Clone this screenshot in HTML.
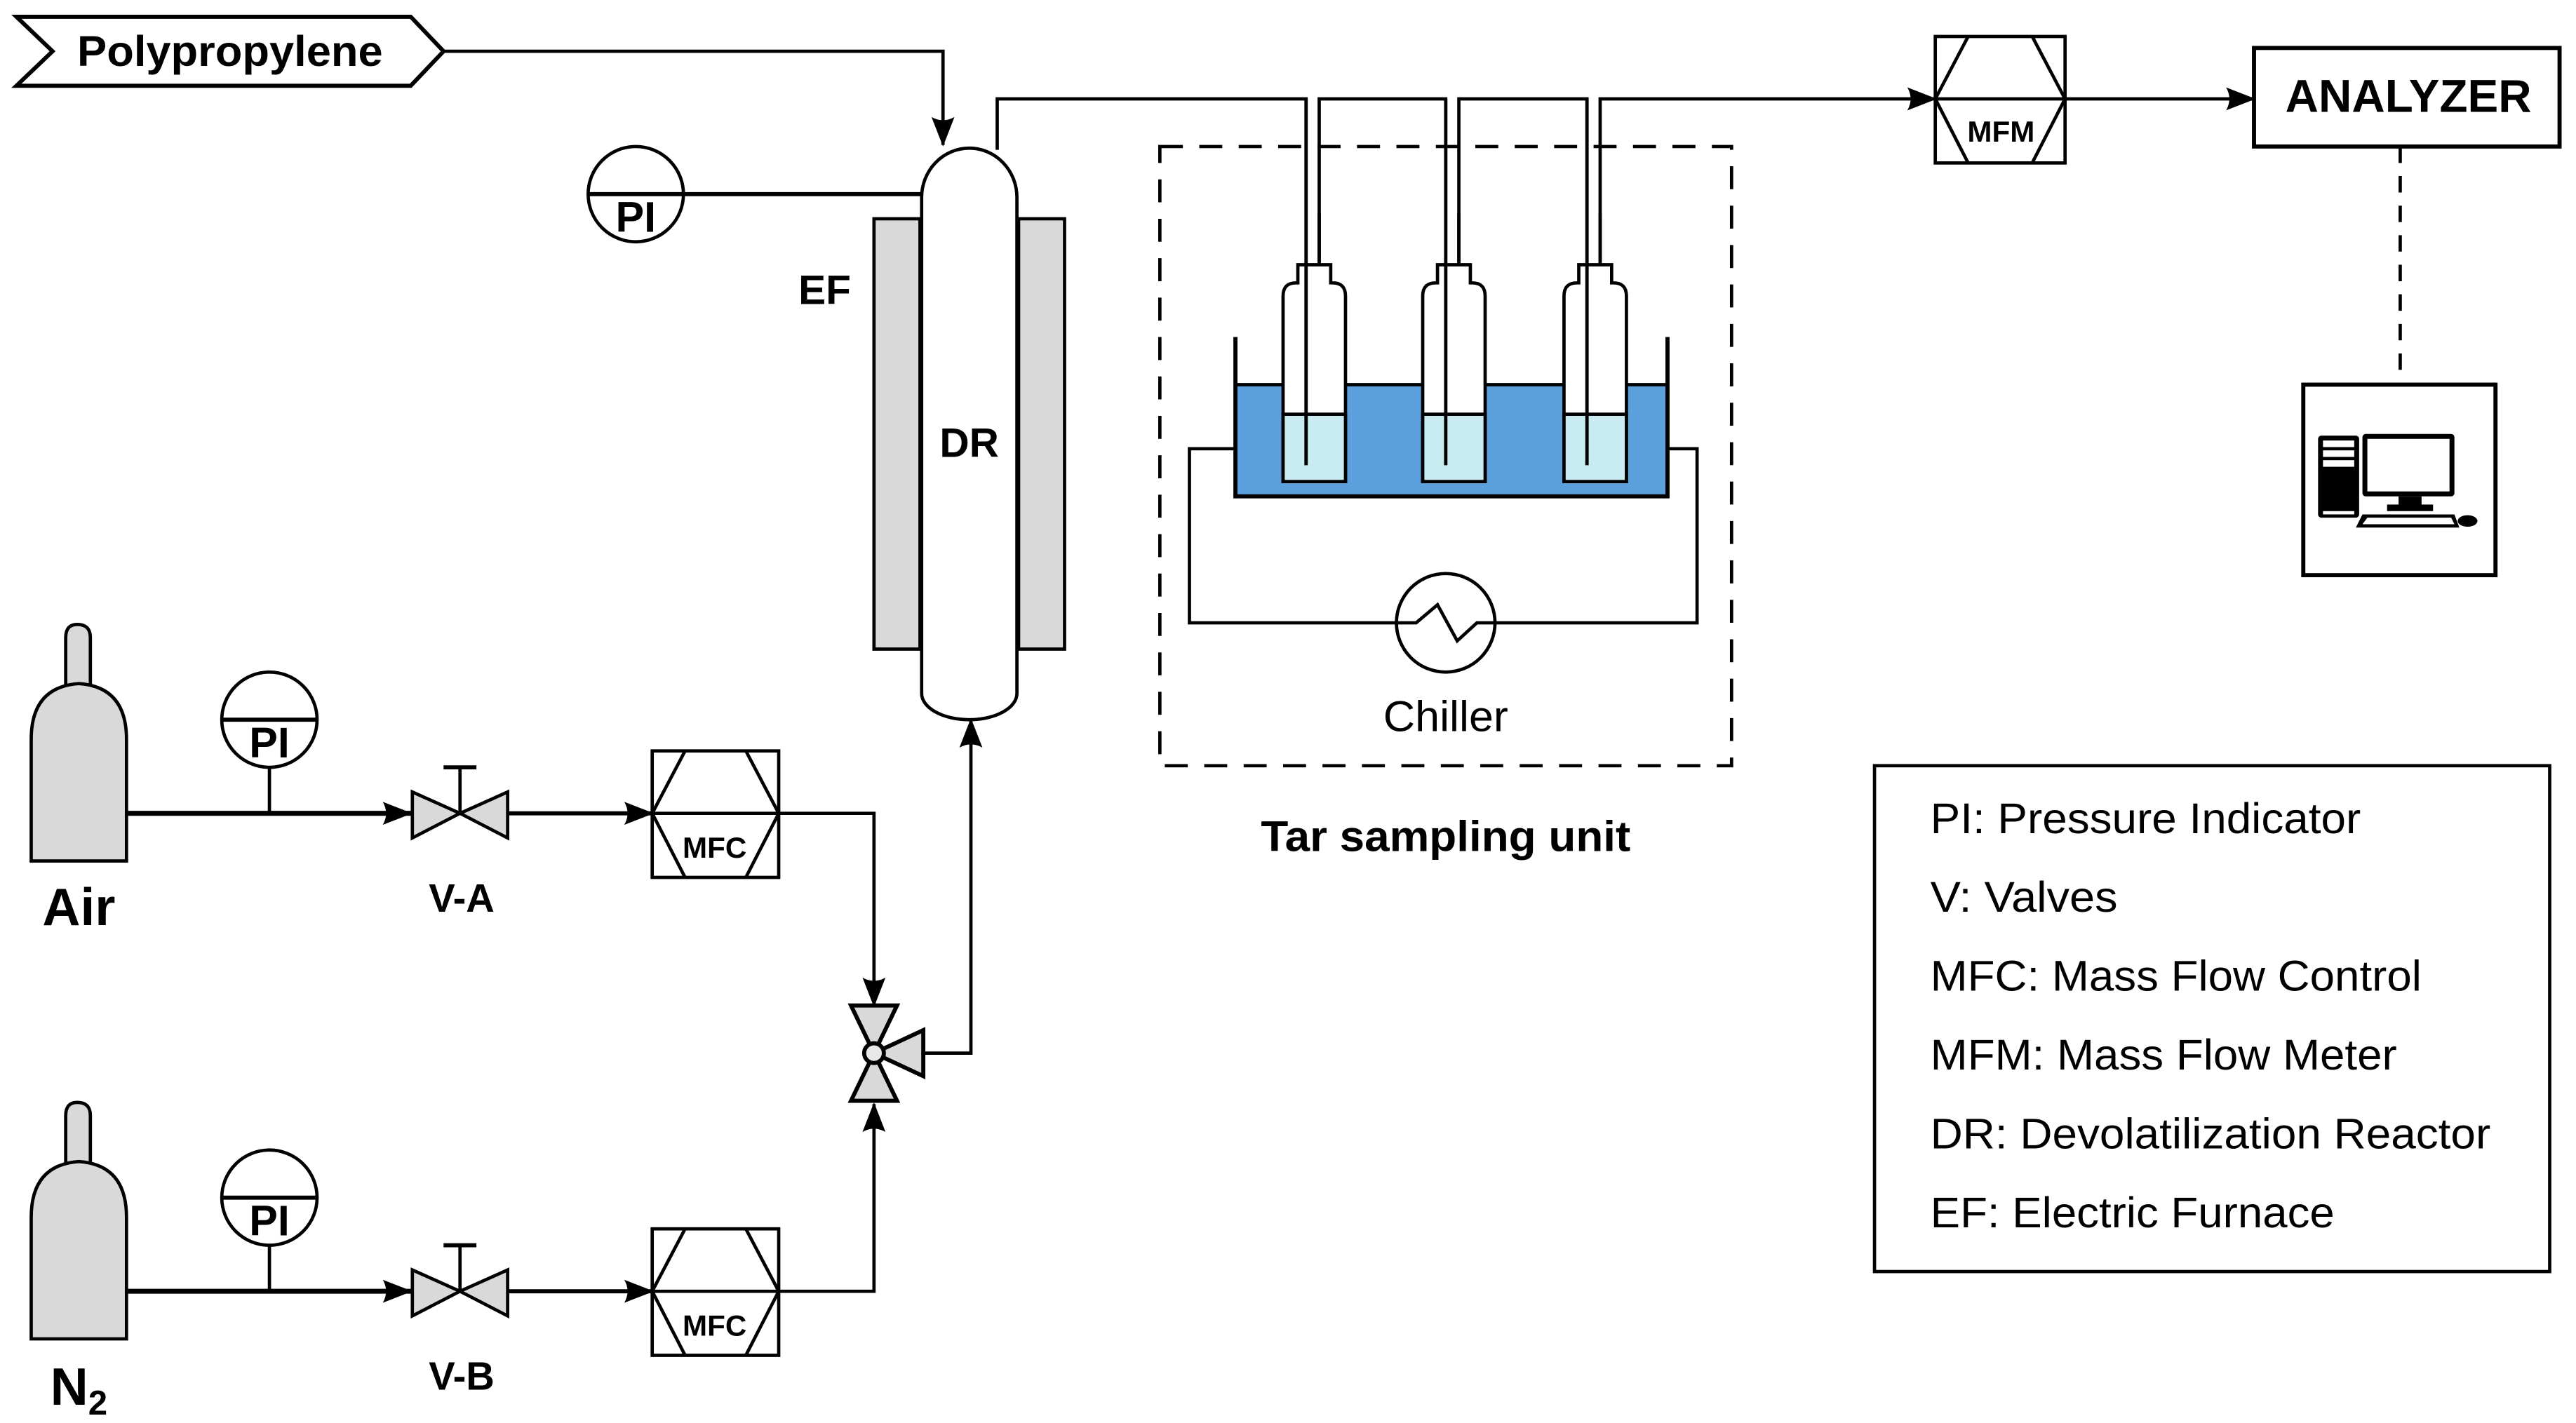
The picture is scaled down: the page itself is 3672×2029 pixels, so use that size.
<!DOCTYPE html>
<html><head><meta charset="utf-8"><style>html,body{margin:0;padding:0;background:#fff}svg{display:block}</style></head>
<body>
<svg width="3672" height="2029" viewBox="0 0 1568 866" xmlns="http://www.w3.org/2000/svg" font-family="Liberation Sans, Arial, sans-serif">
<defs>
<marker id="ah2" markerWidth="18" markerHeight="14" refX="17" refY="7" orient="auto" markerUnits="userSpaceOnUse" viewBox="0 0 18 14">
<path d="M0,0 L18,7 L0,14 Q4,7 0,0 Z" fill="#000"/>
</marker>
</defs>
<g stroke="#000" fill="none" stroke-width="2">
<path d="M10,10 L250,10 L270,31 L250,52 L10,52 L32,31 Z" fill="#fff" stroke-width="2.5"/>
<path d="M270,31 L574,31 L574,88" marker-end="url(#ah2)"/>
<rect x="532" y="133" width="28" height="262" fill="#d9d9d9"/>
<rect x="620" y="133" width="28" height="262" fill="#d9d9d9"/>
<path d="M561,120 A29,30 0 0 1 619,120 L619,422 A29,16 0 0 1 561,422 Z" fill="#fff"/>
<ellipse cx="387" cy="118" rx="29" ry="29" fill="#fff"/>
<line x1="358" y1="118" x2="561" y2="118" stroke-width="2.5"/>
<path d="M607,91 L607,60 L795,60 L795,283"/>
<path d="M803,160 L803,60 L880,60 L880,283"/>
<path d="M888,160 L888,60 L966,60 L966,283"/>
<path d="M974,160 L974,60 L1178,60" marker-end="url(#ah2)"/>
<rect x="706" y="89" width="348" height="377" stroke-dasharray="14,10"/>
<path d="M752,273 L724,273 L724,379 L1033,379 L1033,273 L1015,273"/>
<circle cx="880" cy="379" r="30" fill="#fff"/>
<path d="M850,379 L862,379 L875,368 L887,390 L899,379 L910,379"/>
<rect x="752" y="234" width="263" height="68" fill="#5b9fdc" stroke="none"/>
<path d="M752,205 L752,302 L1015,302 L1015,205" stroke-width="2.5"/>
<line x1="752" y1="234" x2="1015" y2="234"/>
</g>
<g stroke="#000" stroke-width="2">
<g id="imp">
<path d="M781,293 L781,180 Q781,172 789,172 L790,172 L790,161 L810,161 L810,172 L811,172 Q819,172 819,180 L819,293 Z" fill="#fff"/>
<rect x="781" y="252" width="38" height="41" fill="#c9ecf2"/>
<line x1="795" y1="161" x2="795" y2="283"/>
<line x1="803" y1="161" x2="803" y2="130"/>
</g>
<use href="#imp" x="85"/>
<use href="#imp" x="171"/>
</g>
<g stroke="#000" fill="none" stroke-width="2">
<path d="M795,60 L795,283 M880,60 L880,283 M966,60 L966,283"/>
<rect x="1178" y="22" width="79" height="77" fill="#fff"/>
<path d="M1198,22 L1178,60 L1198,99 M1237,22 L1257,60 L1237,99 M1178,60 L1257,60"/>
<path d="M1257,60 L1372,60" marker-end="url(#ah2)"/>
<rect x="1372" y="29" width="186" height="60" stroke-width="2.5"/>
<line x1="1461" y1="89" x2="1461" y2="234" stroke-dasharray="10,8"/>
<rect x="1402" y="234" width="117" height="116" stroke-width="2.5"/>
<rect x="1141" y="466" width="411" height="308" stroke-width="2"/>
</g>
<g>
<rect x="1411" y="265" width="25" height="50" rx="2" fill="#000"/>
<rect x="1414" y="268" width="19" height="4" fill="#fff"/>
<rect x="1414" y="274" width="19" height="4" fill="#fff"/>
<rect x="1414" y="280" width="19" height="4" fill="#fff"/>
<rect x="1414" y="311" width="19" height="2" fill="#fff"/>
<rect x="1438" y="264" width="56" height="38" rx="2" fill="#000"/>
<rect x="1441" y="267" width="50" height="32" fill="#fff"/>
<rect x="1460" y="302" width="14" height="6" fill="#000"/>
<rect x="1453" y="307" width="28" height="4" fill="#000"/>
<path d="M1438,313 L1494,313 L1497,321 L1434,321 Z" fill="#000"/>
<path d="M1441,315 L1492,315 L1494,319 L1438,319 Z" fill="#fff"/>
<ellipse cx="1502" cy="317" rx="6" ry="3.5" fill="#000"/>
</g>
<g stroke="#000" fill="none" stroke-width="2">
<path d="M40,418 L40,388 Q40,380 47,380 Q55,380 55,388 L55,418" fill="#d9d9d9"/>
<path d="M19,524 L19,450 Q19,418 48,416 Q77,418 77,450 L77,524 Z" fill="#d9d9d9"/>
<path d="M77,495 L250,495" stroke-width="3" marker-end="url(#ah2)"/>
<ellipse cx="164" cy="438" rx="29" ry="29" fill="#fff"/>
<line x1="135" y1="438" x2="193" y2="438" stroke-width="2.5"/>
<line x1="164" y1="467" x2="164" y2="495"/>
<path d="M251,482 L251,510 L280,495 Z M309,482 L309,510 L280,495 Z" fill="#d9d9d9"/>
<line x1="280" y1="495" x2="280" y2="467"/><line x1="270" y1="467" x2="290" y2="467" stroke-width="2.5"/>
<path d="M310,495 L397,495" stroke-width="2.5" marker-end="url(#ah2)"/>
<rect x="397" y="457" width="77" height="77" fill="#fff"/>
<path d="M417,457 L397,495 L417,534 M454,457 L474,495 L454,534 M397,495 L474,495"/>
<path d="M474,495 L532,495 L532,612" marker-end="url(#ah2)"/>
</g>
<g stroke="#000" fill="none" stroke-width="2" transform="translate(0,291)">
<path d="M40,418 L40,388 Q40,380 47,380 Q55,380 55,388 L55,418" fill="#d9d9d9"/>
<path d="M19,524 L19,450 Q19,418 48,416 Q77,418 77,450 L77,524 Z" fill="#d9d9d9"/>
<path d="M77,495 L250,495" stroke-width="3" marker-end="url(#ah2)"/>
<ellipse cx="164" cy="438" rx="29" ry="29" fill="#fff"/>
<line x1="135" y1="438" x2="193" y2="438" stroke-width="2.5"/>
<line x1="164" y1="467" x2="164" y2="495"/>
<path d="M251,482 L251,510 L280,495 Z M309,482 L309,510 L280,495 Z" fill="#d9d9d9"/>
<line x1="280" y1="495" x2="280" y2="467"/><line x1="270" y1="467" x2="290" y2="467" stroke-width="2.5"/>
<path d="M310,495 L397,495" stroke-width="2.5" marker-end="url(#ah2)"/>
<rect x="397" y="457" width="77" height="77" fill="#fff"/>
<path d="M417,457 L397,495 L417,534 M454,457 L474,495 L454,534 M397,495 L474,495"/>
<path d="M474,495 L532,495 L532,381" marker-end="url(#ah2)"/>
</g>
<g stroke="#000" stroke-width="2.5" fill="#d9d9d9">
<path d="M518,612 L546,612 L532,641 Z"/>
<path d="M518,670 L546,670 L532,641 Z"/>
<path d="M562,627 L562,655 L532,641 Z"/>
<circle cx="532" cy="641" r="6" fill="#e8e8e8"/>
<path d="M562,641 L591,641 L591,438" fill="none" stroke-width="2" marker-end="url(#ah2)"/>
</g>
<g fill="#000" font-weight="bold">
<text x="47" y="40" font-size="26" textLength="186" lengthAdjust="spacingAndGlyphs">Polypropylene</text>
<text x="387" y="141" font-size="26" text-anchor="middle">PI</text>
<text x="164" y="461" font-size="26" text-anchor="middle">PI</text>
<text x="164" y="752" font-size="26" text-anchor="middle">PI</text>
<text x="486" y="185" font-size="25">EF</text>
<text x="590" y="278" font-size="25" text-anchor="middle">DR</text>
<text x="1218" y="86" font-size="18" text-anchor="middle">MFM</text>
<text x="1466" y="68" font-size="28" text-anchor="middle">ANALYZER</text>
<text x="435" y="522" font-size="18" text-anchor="middle">MFC</text>
<text x="435" y="813" font-size="18" text-anchor="middle">MFC</text>
<text x="48" y="563" font-size="32" text-anchor="middle">Air</text>
<text x="48" y="855" font-size="32" text-anchor="middle">N<tspan font-size="21" dy="6">2</tspan></text>
<text x="281" y="555" font-size="24" text-anchor="middle">V-A</text>
<text x="281" y="846" font-size="24" text-anchor="middle">V-B</text>
<text x="880" y="518" font-size="26" text-anchor="middle" textLength="225" lengthAdjust="spacingAndGlyphs">Tar sampling unit</text>
</g>
<g fill="#000" font-size="26">
<text x="880" y="445" text-anchor="middle" textLength="76" lengthAdjust="spacingAndGlyphs">Chiller</text>
<text x="1175" y="507" textLength="262" lengthAdjust="spacingAndGlyphs">PI: Pressure Indicator</text>
<text x="1175" y="555" textLength="114" lengthAdjust="spacingAndGlyphs">V: Valves</text>
<text x="1175" y="603" textLength="299" lengthAdjust="spacingAndGlyphs">MFC: Mass Flow Control</text>
<text x="1175" y="651" textLength="284" lengthAdjust="spacingAndGlyphs">MFM: Mass Flow Meter</text>
<text x="1175" y="699" textLength="341" lengthAdjust="spacingAndGlyphs">DR: Devolatilization Reactor</text>
<text x="1175" y="747" textLength="246" lengthAdjust="spacingAndGlyphs">EF: Electric Furnace</text>
</g>
</svg>
</body></html>
